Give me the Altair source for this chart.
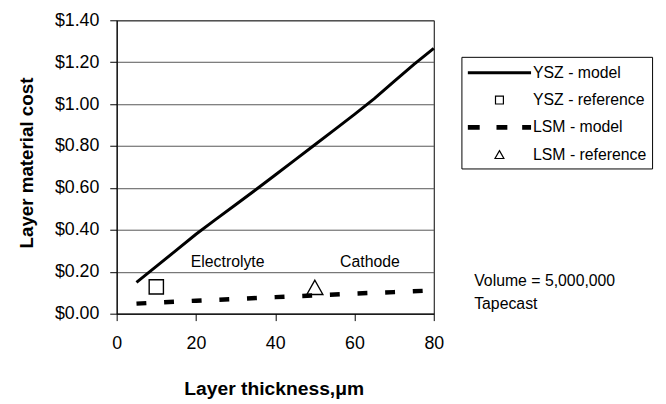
import altair as alt
import pandas as pd

# ---- data ----
ysz_thickness = [5, 10, 15, 20, 25, 30, 35, 40, 45, 50, 55, 60, 65, 70, 75, 80]
ysz_cost = [0.149, 0.226, 0.302, 0.379, 0.450, 0.520, 0.590, 0.662,
            0.734, 0.806, 0.878, 0.951, 1.026, 1.108, 1.190, 1.266]
lsm_thickness = [5, 10, 20, 30, 40, 50, 60, 70, 80]
lsm_cost = [0.048, 0.053, 0.062, 0.070, 0.079, 0.087, 0.096, 0.103, 0.111]
ref_series = ["YSZ - reference", "LSM - reference"]
ref_thickness = [10, 50]
ref_cost = [0.128, 0.124]
series = ["YSZ - model", "YSZ - reference", "LSM - model", "LSM - reference"]
note_text = ["Electrolyte", "Cathode"]
note_x = [28.0, 63.9]
note_y = [0.222, 0.222]
side_text = ["Volume = 5,000,000", "Tapecast"]
side_x = [90.2, 90.2]
side_y = [0.132, 0.024]
x_ticks = [0, 20, 40, 60, 80]
y_ticks = [0, 0.2, 0.4, 0.6, 0.8, 1.0, 1.2, 1.4]

ysz_df = pd.DataFrame({"thickness": ysz_thickness, "cost": ysz_cost})
lsm_df = pd.DataFrame({"thickness": lsm_thickness, "cost": lsm_cost})
ref_df = pd.DataFrame({"series": ref_series, "thickness": ref_thickness, "cost": ref_cost})
note_df = pd.DataFrame({"text": note_text, "thickness": note_x, "cost": note_y})
side_df = pd.DataFrame({"text": side_text, "thickness": side_x, "cost": side_y})


# ---- symbol paths (unit coords, scaled by sqrt(size)/2) ----
def bar_path(segments, offsets):
    parts = []
    for (a, b) in segments:
        for o in offsets:
            parts.append(f"M{a},{o}H{b}")
    return "".join(parts)


solid_path = bar_path([(-3.2, 3.2)], [-0.09, 0, 0.09])
dash_path = bar_path([(-3.2, -2.0), (-0.3, 0.8), (2.3, 3.2)],
                     [-0.19, -0.095, 0, 0.095, 0.19])
square_path = "M-0.4,-0.4H0.4V0.4H-0.4Z"
triangle_path = "M0,-0.42L0.45,0.38L-0.45,0.38Z"
shape_range = [solid_path, square_path, dash_path, triangle_path]

xscale = alt.Scale(domain=[0, 80], nice=False)
yscale = alt.Scale(domain=[0, 1.4], nice=False)

x_axis = alt.Axis(values=x_ticks, grid=False, tickSize=7, labelPadding=14,
                  labelFlush=False, labelFontSize=18, titleFontSize=19.5,
                  titleFontWeight="bold", titleX=159, titleY=82,
                  titleBaseline="alphabetic", titleAlign="center")
y_axis = alt.Axis(values=y_ticks, format="$.2f", grid=True, gridColor="#555555",
                  gridWidth=1, tickSize=7, labelPadding=11, labelFontSize=18,
                  titleFontSize=19, titleFontWeight="bold", titleX=-91,
                  titleY=144, titleAngle=270, titleAlign="center",
                  titleBaseline="middle")

ysz_line = alt.Chart(ysz_df).mark_line(color="black", strokeWidth=3).encode(
    x=alt.X("thickness:Q", scale=xscale, axis=x_axis, title="Layer thickness,\u03bcm"),
    y=alt.Y("cost:Q", scale=yscale, axis=y_axis, title="Layer material cost"),
)

lsm_line = alt.Chart(lsm_df).mark_line(
    color="black", strokeWidth=4.5, strokeDash=[10, 18], strokeCap="butt"
).encode(
    x=alt.X("thickness:Q", scale=xscale),
    y=alt.Y("cost:Q", scale=yscale),
)

legend = alt.Legend(
    title=None, orient="none", legendX=349, legendY=37,
    strokeColor="black", fillColor="white", padding=5,
    symbolSize=400, symbolOffset=22.5, labelOffset=23, rowPadding=8.7,
    symbolStrokeColor="black", symbolFillColor="transparent",
    symbolStrokeWidth=1.2, labelFontSize=16, labelColor="black",
    labelLimit=300,
)

ref_points = alt.Chart(ref_df).mark_point(
    color="black", filled=False, size=1300, strokeWidth=1.4, opacity=1
).encode(
    x=alt.X("thickness:Q", scale=xscale),
    y=alt.Y("cost:Q", scale=yscale),
    shape=alt.Shape("series:N", scale=alt.Scale(domain=series, range=shape_range),
                    legend=legend),
)

notes = alt.Chart(note_df).mark_text(
    fontSize=16, color="black", align="center", baseline="alphabetic"
).encode(
    x=alt.X("thickness:Q", scale=xscale),
    y=alt.Y("cost:Q", scale=yscale),
    text="text:N",
)

side_notes = alt.Chart(side_df).mark_text(
    fontSize=16, color="black", align="left", baseline="alphabetic", clip=False
).encode(
    x=alt.X("thickness:Q", scale=xscale),
    y=alt.Y("cost:Q", scale=yscale),
    text="text:N",
)

chart = alt.layer(ysz_line, lsm_line, ref_points, notes, side_notes).properties(
    width=321, height=297,
    autosize=alt.AutoSizeParams(type="none"),
    padding={"left": 110, "top": 10, "right": 227, "bottom": 91},
).configure(
    font="Liberation Sans",
).configure_view(
    stroke="black", strokeWidth=1,
).configure_axis(
    domainColor="black", tickColor="black", labelColor="black",
    titleColor="black", labelFont="Liberation Sans", titleFont="Liberation Sans",
)

chart.save("out.html", embed_options={"renderer": "svg", "actions": False})
